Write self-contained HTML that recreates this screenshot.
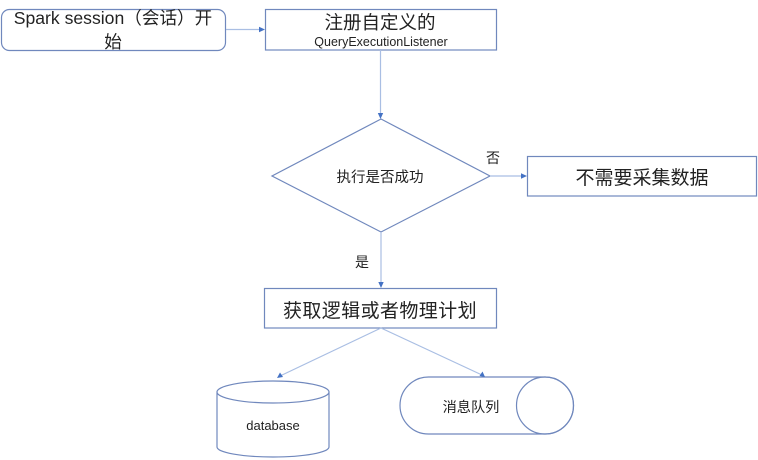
<!DOCTYPE html>
<html><head><meta charset="utf-8"><style>
html,body{margin:0;padding:0;background:#fff;}
svg{display:block;}
text{font-family:"Liberation Sans","Noto Sans CJK SC",sans-serif;fill:#222;}
</style></head><body>
<svg width="758" height="460" viewBox="0 0 758 460" xmlns="http://www.w3.org/2000/svg">
<g fill="none" stroke="#7088bd" stroke-width="1.2">
<rect x="1.5" y="9.5" width="224" height="41" rx="8"/>
<rect x="265.5" y="9.5" width="231" height="40.5"/>
<polygon points="381,119 490,176 381,232 272,176"/>
<rect x="527.5" y="156.5" width="229" height="39.5"/>
<rect x="264.5" y="288.5" width="232" height="39.5"/>
<path d="M217,392 A56,11 0 0 1 329,392 A56,11 0 0 1 217,392 Z M217,392 V447 A56,10 0 0 0 329,447 V392"/>
<path d="M428.5,377 H545 A28.5,28.5 0 0 1 545,434 H428.5 A28.5,28.5 0 0 1 428.5,377 Z"/>
<circle cx="545" cy="405.5" r="28.5"/>
</g>
<g stroke="#a9bee3" stroke-width="1.2" fill="none">
<line x1="226" y1="29.5" x2="260" y2="29.5"/>
<line x1="380.5" y1="50" x2="380.5" y2="114"/>
<line x1="490" y1="176" x2="523" y2="176"/>
<line x1="381" y1="232" x2="381" y2="283"/>
<line x1="381" y1="328" x2="280" y2="376"/>
<line x1="381" y1="328" x2="482" y2="375"/>
</g>
<g fill="#4472c4">
<polygon points="265,29.5 259,26.8 259,32.2"/>
<polygon points="380.5,119 377.8,113 383.2,113"/>
<polygon points="527,176 521,173.3 521,178.7"/>
<polygon points="381,288 378.3,282 383.7,282"/>
<polygon points="277,378 280,372.5 283,377"/>
<polygon points="485,377 479.5,376 482.5,371.5"/>
</g>
<text x="113" y="24" font-size="17.6" text-anchor="middle">Spark session（会话）开</text>
<text x="113" y="48" font-size="17.6" text-anchor="middle">始</text>
<text x="380" y="29" font-size="18.5" text-anchor="middle">注册自定义的</text>
<text x="381" y="46" font-size="12.5" text-anchor="middle">QueryExecutionListener</text>
<text x="380" y="182" font-size="14.5" text-anchor="middle">执行是否成功</text>
<text x="493" y="163" font-size="14" text-anchor="middle">否</text>
<text x="642" y="184" font-size="19" text-anchor="middle">不需要采集数据</text>
<text x="362" y="267" font-size="14" text-anchor="middle">是</text>
<text x="380" y="317" font-size="19" text-anchor="middle" letter-spacing="0.4">获取逻辑或者物理计划</text>
<text x="273" y="430" font-size="13" text-anchor="middle">database</text>
<text x="471" y="412" font-size="14.2" text-anchor="middle">消息队列</text>
</svg>
</body></html>
